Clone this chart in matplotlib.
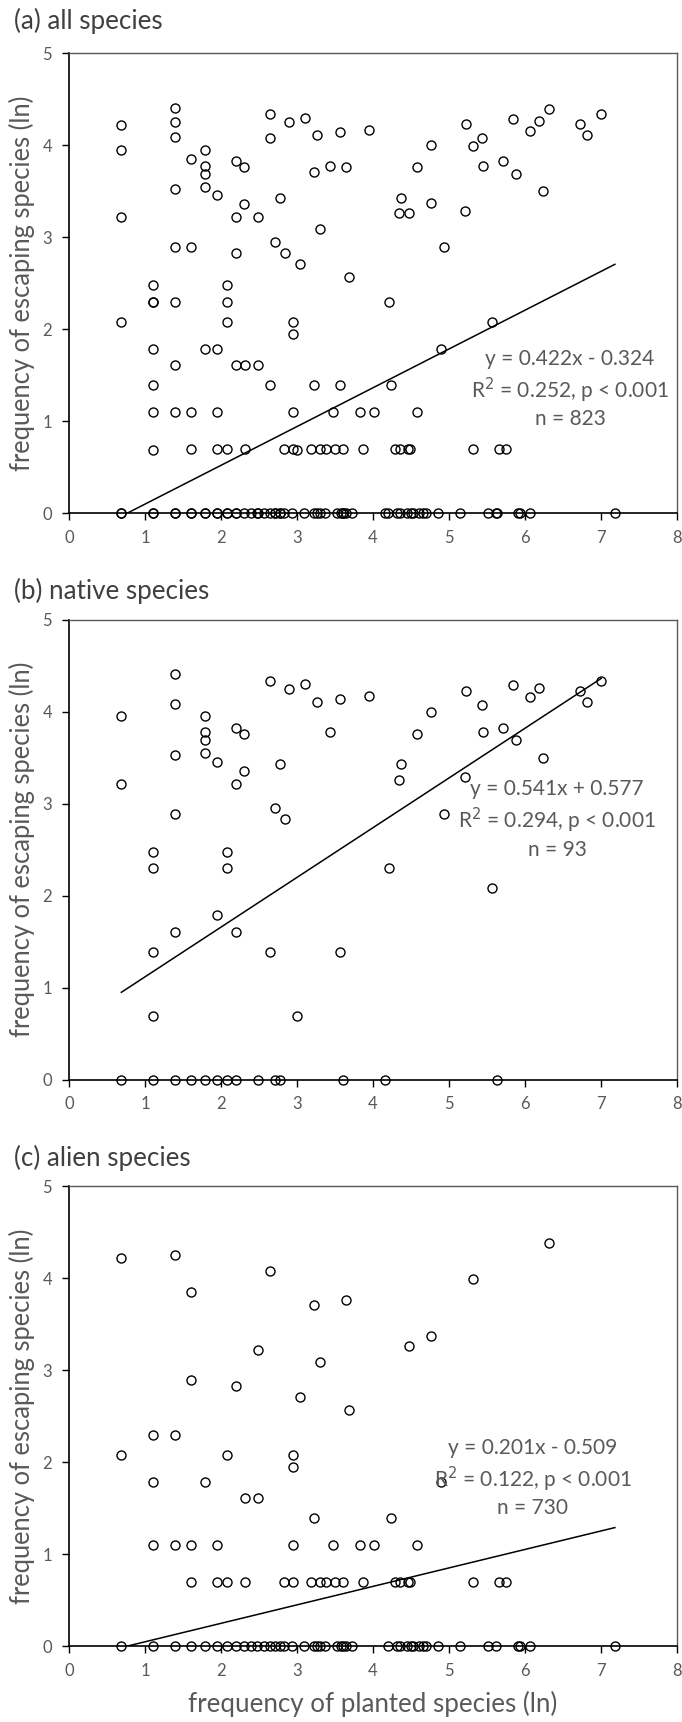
"""
Escaping vs planted species frequency (ln scale), three panels:
all species, native species, alien species.
"""

import numpy as np
import matplotlib
matplotlib.use("Agg")
import matplotlib.pyplot as plt

GREY, INK = "#595959", "#000000"
plt.rcParams.update({
    "font.family": ["Lato", "DejaVu Sans"],
    "font.size": 10,
    "xtick.color": INK, "ytick.color": INK,
    "xtick.labelcolor": GREY, "ytick.labelcolor": GREY,
})

# native species: (ln planted, ln escaping)
native_x = [0.69, 0.69, 0.69, 1.39, 1.39, 1.39, 1.39, 1.39, 1.39,
            1.10, 1.10, 1.10, 1.10, 1.10, 1.79, 1.79, 1.79, 1.79, 1.95, 1.95,
            1.61, 1.79, 1.95, 2.08, 2.20, 2.20, 2.30, 2.30, 2.20, 2.08, 2.08,
            2.20, 2.49, 2.64, 2.64, 2.71, 2.78, 2.71, 2.77, 2.84, 2.89, 3.10,
            3.00, 3.26, 3.44, 3.56, 3.56, 3.61, 3.95, 4.16, 4.21, 4.34, 4.37,
            4.58, 4.76, 4.93, 5.21, 5.22, 5.43, 5.45, 5.56, 5.63, 5.71, 5.84,
            5.88, 6.07, 6.18, 6.24, 6.72, 6.81, 7.00]
native_y = [3.95, 3.22, 0.00, 4.41, 4.09, 3.53, 2.89, 1.61, 0.00,
            2.48, 2.30, 1.39, 0.69, 0.00, 3.95, 3.78, 3.69, 3.55, 3.46, 1.79,
            0.00, 0.00, 0.00, 0.00, 0.00, 3.83, 3.76, 3.36, 3.22, 2.48, 2.30,
            1.61, 0.00, 4.34, 1.39, 0.00, 0.00, 2.95, 3.43, 2.83, 4.25, 4.30,
            0.69, 4.11, 3.78, 4.14, 1.39, 0.00, 4.17, 0.00, 2.30, 3.26, 3.43,
            3.76, 4.00, 2.89, 3.29, 4.23, 4.08, 3.78, 2.08, 0.00, 3.83, 4.29,
            3.69, 4.16, 4.26, 3.50, 4.23, 4.11, 4.34]

# alien species, points above zero
alien_x = [0.69, 0.69, 1.39, 1.39, 1.39, 1.10, 1.10, 1.10, 1.61, 1.61,
           1.61, 1.61, 1.79, 1.95, 1.95, 2.08, 2.08, 2.20, 2.31, 2.31, 2.49,
           2.49, 2.64, 2.83, 2.95, 2.95, 2.95, 2.95, 3.04, 3.18, 3.22, 3.22,
           3.30, 3.30, 3.38, 3.47, 3.50, 3.64, 3.61, 3.69, 3.83, 3.87, 4.01,
           4.24, 4.29, 4.36, 4.47, 4.46, 4.49, 4.58, 4.76, 4.89, 5.31, 5.31,
           5.65, 5.75, 6.31]
alien_y = [4.22, 2.08, 4.25, 2.30, 1.10, 2.30, 1.79, 1.10, 3.85, 2.89,
           1.10, 0.70, 1.79, 1.10, 0.70, 2.08, 0.70, 2.83, 1.61, 0.70, 3.22,
           1.61, 4.08, 0.70, 2.08, 1.95, 1.10, 0.70, 2.71, 0.70, 3.71, 1.39,
           3.09, 0.70, 0.70, 1.10, 0.70, 3.76, 0.70, 2.57, 1.10, 0.70, 1.10,
           1.39, 0.70, 0.70, 3.26, 0.70, 0.70, 1.10, 3.37, 1.79, 3.99, 0.70,
           0.70, 0.70, 4.39]
# alien species that did not escape (ln escaping = 0)
alien_zero_x = [0.69, 1.10, 1.39, 1.61, 1.79, 1.95, 2.08, 2.20, 2.30, 2.40, 2.48,
                2.56, 2.64, 2.71, 2.77, 2.83, 2.94, 3.09, 3.22, 3.26, 3.30, 3.37,
                3.53, 3.58, 3.61, 3.64, 3.72, 4.19, 4.32, 4.36, 4.44, 4.50, 4.52,
                4.61, 4.66, 4.70, 4.86, 5.14, 5.51, 5.62, 5.90, 5.93, 6.07, 7.18]

panel_titles = ["(a) all species", "(b) native species", "(c) alien species"]
fit_labels = [
    "y = 0.422x - 0.324\nR$^2$ = 0.252, p < 0.001\nn = 823",
    "y = 0.541x + 0.577\nR$^2$ = 0.294, p < 0.001\nn = 93",
    "y = 0.201x - 0.509\nR$^2$ = 0.122, p < 0.001\nn = 730",
]
fit_slope = [0.422, 0.541, 0.201]
# drawn trend line in (c) sits higher than its printed intercept
fit_intercept = [-0.324, 0.577, -0.153]
label_pos = [(6.59, 1.35), (6.42, 2.83), (6.10, 1.83)]

alien_x_all = alien_x + alien_zero_x
alien_y_all = alien_y + [0.0] * len(alien_zero_x)
all_x = native_x + alien_x_all
all_y = native_y + alien_y_all
datasets = [(all_x, all_y), (native_x, native_y), (alien_x_all, alien_y_all)]

fig = plt.figure(figsize=(6.82, 17.22), dpi=100)
bottoms = [0.702, 0.373, 0.044]
title_y = [0.988, 0.657, 0.3275]

for i, (xs, ys) in enumerate(datasets):
    ax = fig.add_axes([0.101, bottoms[i], 0.892, 0.267])
    ax.plot(xs, ys, "o", ms=6.5, mfc="none", mec=INK, mew=1.0, clip_on=False, zorder=3)
    xx = np.array([min(xs), max(xs)])
    ax.plot(xx, fit_slope[i] * xx + fit_intercept[i], color=INK, lw=1.1, zorder=4)
    ax.text(*label_pos[i], fit_labels[i], ha="center", va="center",
            fontsize=15, color=GREY, linespacing=1.3, zorder=5)

    ax.set_xlim(0, 8)
    ax.set_ylim(0, 5)
    ax.set_xticks(range(0, 9))
    ax.set_yticks(range(0, 6))
    ax.tick_params(direction="out", length=5, width=1, pad=7, labelsize=12)
    for side in ("left", "bottom"):
        ax.spines[side].set_color(INK)
        ax.spines[side].set_linewidth(1.2)
    for side in ("top", "right"):
        ax.spines[side].set_color(GREY)
        ax.spines[side].set_linewidth(1.0)

    fig.text(0.020, title_y[i], panel_titles[i], ha="left", va="center",
             fontsize=18.7, color="#404040")
    fig.text(0.032, bottoms[i] + 0.1335, "frequency of escaping species (ln)",
             rotation=90, ha="center", va="center", fontsize=18.4, color=GREY)

fig.text(0.547, 0.0105, "frequency of planted species (ln)", ha="center",
         va="center", fontsize=18.6, color=GREY)

fig.savefig("out.png", dpi=100)
